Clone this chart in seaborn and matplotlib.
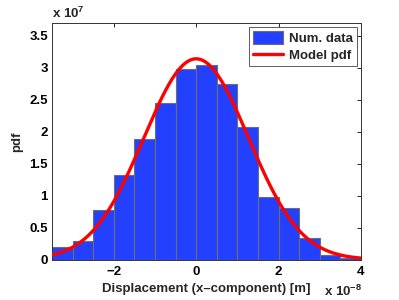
import numpy as np
import matplotlib
matplotlib.use("Agg")
import matplotlib.pyplot as plt
import seaborn as sns
from matplotlib.patches import Patch
from matplotlib.lines import Line2D

# Data (x in units of 1e-8 m, pdf in units of 1e7)
bin_edges = [-3.5, -3.0, -2.5, -2.0, -1.5, -1.0, -0.5, 0.0, 0.5, 1.0, 1.5, 2.0, 2.5, 3.0, 3.5, 4.0]
bin_heights = [0.19, 0.29, 0.78, 1.33, 1.88, 2.45, 2.98, 3.05, 2.75, 2.07, 0.98, 0.80, 0.33, 0.07, 0.03]
model_mu = 0.0      # 1e-8 m
model_sigma = 1.27  # 1e-8 m

x_ticks = [-2, 0, 2, 4]
x_tick_labels = ["\u22122", "0", "2", "4"]
y_ticks = [0, 0.5, 1, 1.5, 2, 2.5, 3, 3.5]
y_tick_labels = ["0", "0.5", "1", "1.5", "2", "2.5", "3", "3.5"]

sns.set_theme(style="white")
plt.rcParams['font.family'] = ['Liberation Sans', 'DejaVu Sans']
plt.rcParams['font.weight'] = 'bold'
plt.rcParams['mathtext.fontset'] = 'custom'
plt.rcParams['mathtext.rm'] = 'Liberation Sans:bold'
plt.rcParams['mathtext.bf'] = 'Liberation Sans:bold'

fig = plt.figure(figsize=(3.99, 3.0), dpi=100)
ax = fig.add_axes([0.1303, 0.135, 0.7744, 0.788])

centers = [(a + b) / 2 for a, b in zip(bin_edges[:-1], bin_edges[1:])]
bar_color = "#2440ff"
sns.histplot(x=centers, weights=bin_heights, bins=bin_edges, ax=ax,
             color=bar_color, edgecolor="#6e6e6e", linewidth=0.8, alpha=1.0)

xs = np.linspace(-3.5, 4.0, 400)
pdf = np.exp(-(xs - model_mu) ** 2 / (2 * model_sigma ** 2)) / (model_sigma * np.sqrt(2 * np.pi)) * 10
sns.lineplot(x=xs, y=pdf, ax=ax, color="#ff0000", linewidth=2.4, zorder=5)

ax.set_xlim(-3.5, 4.0)
ax.set_ylim(0, 3.7)
ax.set_xticks(x_ticks)
ax.set_xticklabels(x_tick_labels)
ax.set_yticks(y_ticks)
ax.set_yticklabels(y_tick_labels)
ax.tick_params(direction="in", length=3, width=0.6, top=True, right=True,
               labelsize=9.5, colors="black")
ax.tick_params(axis="x", pad=5)
ax.tick_params(axis="y", pad=3)
for lab in ax.get_xticklabels() + ax.get_yticklabels():
    lab.set_fontweight("bold")
for s in ax.spines.values():
    s.set_visible(True)
    s.set_color("#333333")
    s.set_linewidth(0.7)

ax.set_xlabel("Displacement (x\u2013component) [m]", fontsize=9.5, fontweight="bold", labelpad=3)
ax.set_ylabel("pdf", fontsize=9.5, fontweight="bold", labelpad=4)

fig.text(0.130, 0.94, r"x 10$^{\mathbf{7}}$", fontsize=9.5, fontweight="bold", ha="left", va="baseline")
fig.text(0.907, 0.013, r"x 10$^{\mathbf{-8}}$", fontsize=9.5, fontweight="bold", ha="right", va="baseline")

handles = [Patch(facecolor=bar_color, edgecolor="#6e6e6e", linewidth=0.8),
           Line2D([0], [0], color="#ff0000", linewidth=2.4)]
leg = ax.legend(handles, ["Num. data", "Model pdf"], loc="upper right",
                bbox_to_anchor=(0.986, 0.983), fontsize=9.5, frameon=True, fancybox=False,
                handlelength=2.3, handleheight=1.1, borderpad=0.3, labelspacing=0.25,
                handletextpad=0.4, borderaxespad=0.0)
leg.get_frame().set_edgecolor("#333333")
leg.get_frame().set_linewidth(0.7)
for t in leg.get_texts():
    t.set_fontweight("bold")

fig.savefig("out.png", dpi=100)
